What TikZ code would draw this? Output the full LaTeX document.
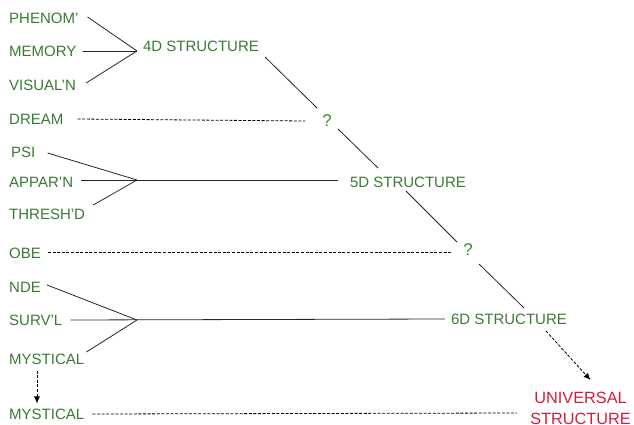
\documentclass[tikz,border=0pt]{standalone}
\usepackage{fontspec}
\setmainfont{Liberation Sans}
\usetikzlibrary{arrows.meta}
\definecolor{txtgreen}{RGB}{58,122,52}
\definecolor{qgreen}{RGB}{44,150,44}
\definecolor{univred}{RGB}{214,28,60}
\tikzset{
  lbl/.style={inner sep=0pt, text=txtgreen, font=\fontsize{15}{17}\selectfont, anchor=west},
  struct/.style={inner sep=0pt, text=txtgreen, font=\fontsize{15}{17}\selectfont},
  qmark/.style={inner sep=0pt, text=qgreen, font=\fontsize{17}{19}\selectfont},
  solidline/.style={draw=black!85, line width=0.8pt},
  dashline/.style={draw=black, line width=0.8pt, dash pattern=on 3pt off 1.6pt},
  dasharrow/.style={dashline, -{Latex[length=7pt,width=6pt]}}
}
\begin{document}
\begin{tikzpicture}[x=1pt,y=-1pt]
\useasboundingbox (0,0) rectangle (634,425);
% left labels
\node[lbl] (phenom) at (9,18) {PHENOM’};
\node[lbl] (memory) at (9,51) {MEMORY};
\node[lbl] (visual) at (9,85) {VISUAL’N};
\node[lbl] (dream) at (9,119) {DREAM};
\node[lbl] (psi) at (11,152) {PSI};
\node[lbl] (appar) at (9,182) {APPAR’N};
\node[lbl] (thresh) at (9,214) {THRESH’D};
\node[lbl] (obe) at (9,253) {OBE};
\node[lbl] (nde) at (9,287) {NDE};
\node[lbl] (survl) at (9,320) {SURV’L};
\node[lbl] (myst1) at (9,359) {MYSTICAL};
\node[lbl] (myst2) at (9,414) {MYSTICAL};
% structures
\node[struct] (n4d) at (201,46) {4D STRUCTURE};
\node[qmark] (q1) at (327,121) {?};
\node[struct] (n5d) at (408,182) {5D STRUCTURE};
\node[qmark] (q2) at (468,250) {?};
\node[struct] (n6d) at (509,319) {6D STRUCTURE};
\node[inner sep=0pt, text=univred, font=\fontsize{16.3}{21}\selectfont, align=center] (univ) at (580.5,408) {UNIVERSAL\\STRUCTURE};
% junctions
\coordinate (j4) at (137,51);
\coordinate (j5) at (137,180);
\coordinate (j6) at (137,320);
% 4D group
\draw[solidline] ([shift={(9,-1)}]phenom.east) -- (j4);
\draw[solidline] ([xshift=6pt]memory.east) -- (j4);
\draw[solidline] ([shift={(10,-2)}]visual.east) -- (j4);
\draw[dashline] ([xshift=14pt]dream.east) -- ([xshift=-17pt]q1.west);
\draw[solidline] ([shift={(64,11)}]n4d.center) -- ([shift={(-10,-13)}]q1.center);
\draw[solidline] ([shift={(11,8)}]q1.center) -- ([shift={(-30,-14)}]n5d.center);
% 5D group
\draw[solidline] ([shift={(12,1)}]psi.east) -- (j5);
\draw[solidline] ([shift={(8,-2)}]appar.east) -- ([shift={(-12,-2)}]n5d.west);
\draw[solidline] ([shift={(8,-9)}]thresh.east) -- (j5);
\draw[dashline] ([shift={(7,-1)}]obe.east) -- ([shift={(-12,2)}]q2.west);
\draw[solidline] ([shift={(-2,9)}]n5d.center) -- ([shift={(-11,-8)}]q2.center);
\draw[solidline] ([shift={(11,14)}]q2.center) -- ([shift={(15,-11)}]n6d.center);
% 6D group
\draw[solidline] ([shift={(6,-2)}]nde.east) -- (j6);
\draw[solidline] ([xshift=8pt]survl.east) -- ([xshift=-6pt]n6d.west);
\draw[solidline] ([shift={(2,-7)}]myst1.east) -- (j6);
\draw[dasharrow] ([shift={(37,12)}]n6d.center) -- ([shift={(10,-28)}]univ.center);
% mystical
\draw[dasharrow] ([shift={(28,6)}]myst1.south west) -- ([shift={(28,-5)}]myst2.north west);
\draw[dashline] ([xshift=8pt]myst2.east) -- ([shift={(-13,5)}]univ.west);
\end{tikzpicture}
\end{document}
